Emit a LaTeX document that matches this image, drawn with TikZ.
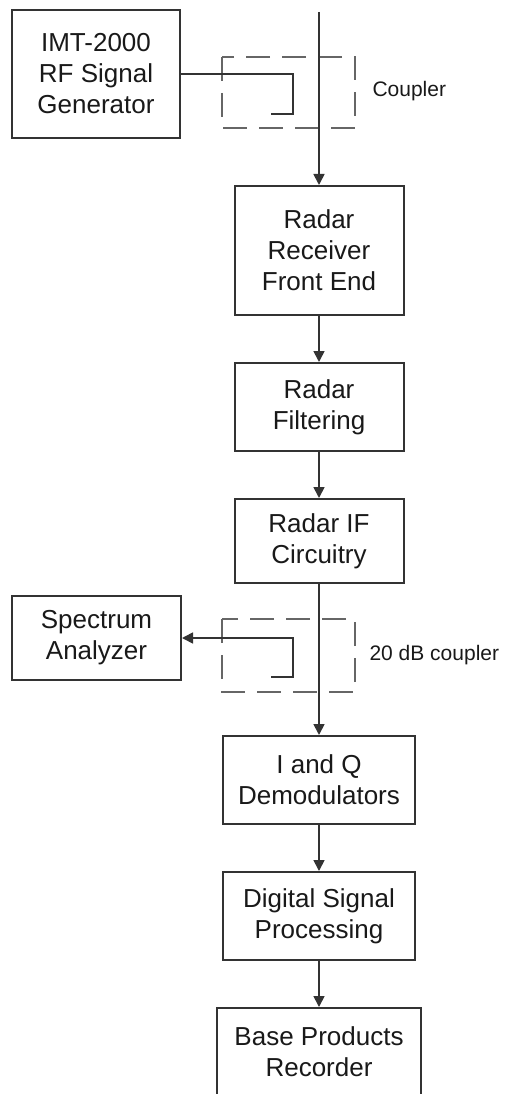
\documentclass[tikz,border=0pt]{standalone}
\usepackage{fontspec}
\setmainfont{Liberation Sans}
\usepackage{xcolor}
\usetikzlibrary{arrows.meta,positioning}

\begin{document}
\begin{tikzpicture}[
        x=1pt, y=-1pt,
        block/.style={
            draw=black!80,
            line width=2pt,
            align=center,
            inner sep=0pt,
            font=\fontsize{26}{31}\selectfont,
            text=black!90
        },
        link/.style={
            -{Triangle[length=11pt,width=11pt]},
            line width=1.7pt,
            draw=black!80
        },
        coupler/.style={
            line width=2pt,
            draw=black!60,
            dash pattern=on 24pt off 12pt
        },
        tag/.style={
            anchor=west,
            font=\fontsize{21}{25}\selectfont,
            text=black!90
        }
    ]

    \clip (0,0) rectangle (504,1094);

    % boxes
    \node[block, minimum width=168pt, minimum height=128pt] (gen) at (96,74)
        {IMT-2000\\RF Signal\\Generator};
    \node[block, minimum width=169pt, minimum height=129pt] (front) at (319,250.5)
        {Radar\\Receiver\\Front End};
    \node[block, minimum width=169pt, minimum height=88pt] (filt) at (319,407)
        {Radar\\Filtering};
    \node[block, minimum width=169pt, minimum height=84pt] (ifc) at (319,541)
        {Radar IF\\Circuitry};
    \node[block, minimum width=169pt, minimum height=84pt] (spec) at (96.5,638)
        {Spectrum\\Analyzer};
    \node[block, minimum width=192pt, minimum height=88pt] (iq) at (319,780)
        {I and Q\\Demodulators};
    \node[block, minimum width=192pt, minimum height=88pt] (dsp) at (319,916)
        {Digital Signal\\Processing};
    \node[block, minimum width=204pt, minimum height=88pt] (base) at (319,1052)
        {Base Products\\Recorder};

    % couplers
    \draw[coupler] (222,57) rectangle (355,128);
    \draw[coupler] (222,619) rectangle (355,692);
    \node[tag] (cpl) at (369,91) {Coupler};
    \node[tag] (cpl20) at (366,655) {20 dB coupler};

    \coordinate (feed) at (319,12);
    \coordinate (c1turn) at (293,114);
    \coordinate (c1end) at (271,114);
    \coordinate (c2turn) at (293,677);
    \coordinate (c2end) at (271,677);

    % signal path
    \draw[link] (feed) -- (front);
    \draw[link] (front) -- (filt);
    \draw[link] (filt) -- (ifc);
    \draw[link] (ifc) -- (iq);
    \draw[link] (iq) -- (dsp);
    \draw[link] (dsp) -- (base);

    \draw[line width=1.7pt, draw=black!80] (gen.east) -| (c1turn) -- (c1end);
    \draw[link] (c2end) -- (c2turn) |- (spec.east);

\end{tikzpicture}
\end{document}
